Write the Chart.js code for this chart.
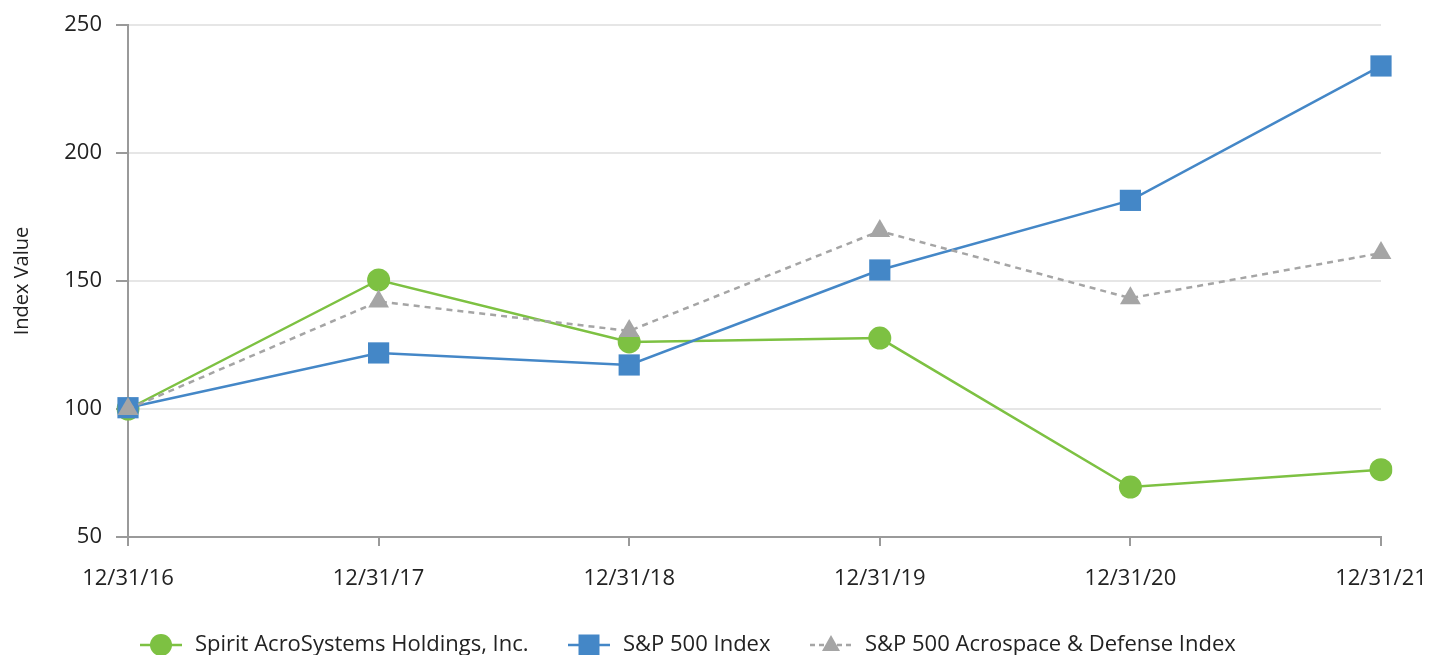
<!DOCTYPE html>
<html>
<head>
<meta charset="utf-8">
<script src="https://cdn.jsdelivr.net/npm/chart.js@4"></script>
<style>
  html, body { margin: 0; padding: 0; background: #fff; }
  #wrap { width: 1431px; height: 655px; }
</style>
</head>
<body>
<div id="wrap"><canvas id="myChart" width="1431" height="655"></canvas></div>
<script>
// data
var dates = ['12/31/16', '12/31/17', '12/31/18', '12/31/19', '12/31/20', '12/31/21'];
var spirit = [100, 150.4, 126.2, 127.7, 69.5, 76.3];
var sp500 = [100.5, 121.9, 117.2, 154.3, 181.5, 234.0];
var aero = [100, 142.0, 130.5, 169.5, 143.3, 160.9];
var yTicks = [50, 100, 150, 200, 250];

var green = '#7dc142';
var blue = '#4487c7';
var gray = '#a5a5a5';
var font = "'Open Sans', 'Noto Sans', sans-serif";

// legend drawn by hand so each entry shows line + marker
var legendItems = [
    { text: 'Spirit AcroSystems Holdings, Inc.', color: green, style: 'circle', dash: [], x: 140 },
    { text: 'S&P 500 Index', color: blue, style: 'rect', dash: [], x: 568 },
    { text: 'S&P 500 Acrospace & Defense Index', color: gray, style: 'triangle', dash: [5, 4], x: 810 }
];

var legendPlugin = {
    id: 'lineLegend',
    afterDraw: function(chart) {
        var ctx = chart.ctx;
        var y = 645;
        ctx.save();
        legendItems.forEach(function(it) {
            ctx.strokeStyle = it.color;
            ctx.lineWidth = 2.5;
            ctx.setLineDash(it.dash);
            ctx.beginPath();
            ctx.moveTo(it.x, y);
            ctx.lineTo(it.x + 42, y);
            ctx.stroke();
            ctx.setLineDash([]);
            ctx.fillStyle = it.color;
            var cx = it.x + 21;
            ctx.beginPath();
            if (it.style === 'circle') {
                ctx.arc(cx, y, 11, 0, Math.PI * 2);
            } else if (it.style === 'rect') {
                ctx.rect(cx - 10.5, y - 10.5, 21, 21);
            } else {
                ctx.moveTo(cx, y - 10);
                ctx.lineTo(cx + 9, y + 6);
                ctx.lineTo(cx - 9, y + 6);
                ctx.closePath();
            }
            ctx.fill();
            ctx.fillStyle = '#222';
            ctx.font = '22px ' + font;
            ctx.textBaseline = 'middle';
            ctx.textAlign = 'left';
            ctx.fillText(it.text, it.x + 55, y);
        });
        ctx.restore();
    }
};

var ctx = document.getElementById('myChart').getContext('2d');
var myChart = new Chart(ctx, {
    type: 'line',
    data: {
        labels: dates,
        datasets: [{
            label: 'Spirit AcroSystems Holdings, Inc.',
            data: spirit,
            borderColor: green,
            backgroundColor: green,
            borderWidth: 2.5,
            pointStyle: 'circle',
            pointRadius: 11.5,
            pointBorderWidth: 0,
            order: 2
        }, {
            label: 'S&P 500 Index',
            data: sp500,
            borderColor: blue,
            backgroundColor: blue,
            borderWidth: 2.5,
            pointStyle: 'rect',
            pointRadius: 15,
            pointBorderWidth: 0,
            order: 1
        }, {
            label: 'S&P 500 Acrospace & Defense Index',
            data: aero,
            borderColor: gray,
            backgroundColor: gray,
            borderWidth: 2.5,
            borderDash: [6, 5],
            pointStyle: 'triangle',
            pointRadius: 12,
            pointBorderWidth: 0,
            order: 0
        }]
    },
    options: {
        responsive: false,
        animation: false,
        layout: { padding: { top: 25, right: 50, left: 0, bottom: 0 } },
        plugins: {
            legend: { display: false },
            tooltip: { enabled: false }
        },
        scales: {
            x: {
                offset: false,
                afterFit: function(s) { s.height = 118; s.paddingLeft = 0; s.paddingRight = 0; },
                border: { color: '#9a9a9a', width: 2 },
                grid: { drawOnChartArea: false, drawTicks: true, tickLength: 9, tickColor: '#9a9a9a', lineWidth: 2 },
                ticks: { color: '#222', font: { family: font, size: 22 }, padding: 20, maxRotation: 0 }
            },
            y: {
                min: 50,
                max: 250,
                afterFit: function(s) { s.width = 128; s.paddingTop = 0; s.paddingBottom = 0; },
                afterBuildTicks: function(s) { s.ticks = yTicks.map(function(v) { return { value: v }; }); },
                border: { color: '#9a9a9a', width: 2 },
                grid: { color: '#e6e6e6', lineWidth: 2, drawTicks: true, tickLength: 12, tickColor: '#9a9a9a' },
                ticks: { color: '#222', font: { family: font, size: 22 }, padding: 14 },
                title: { display: true, text: 'Index Value', color: '#222', font: { family: font, size: 20 }, padding: { top: 10, bottom: 0 } }
            }
        }
    },
    plugins: [legendPlugin]
});
</script>
</body>
</html>
